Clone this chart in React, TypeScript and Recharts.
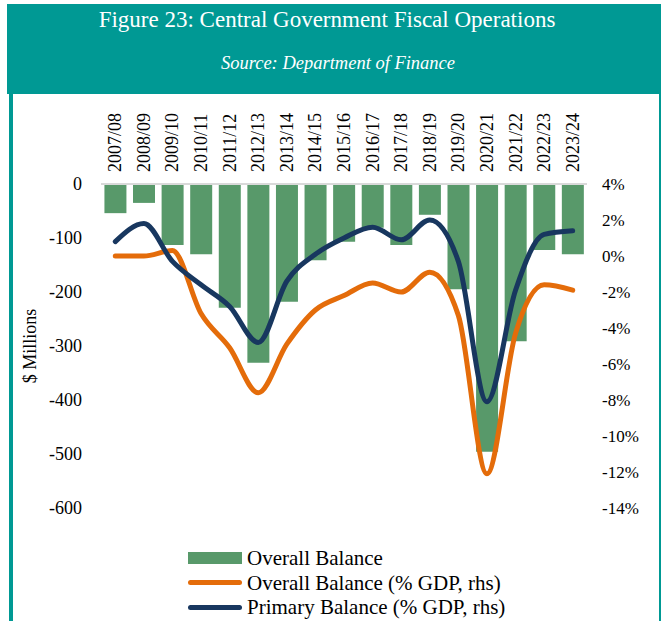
import React from 'react';
import { ComposedChart, Bar, Line, XAxis, YAxis, Legend } from 'recharts';

const YEARS = [
  '2007/08', '2008/09', '2009/10', '2010/11', '2011/12', '2012/13', '2013/14', '2014/15', '2015/16',
  '2016/17', '2017/18', '2018/19', '2019/20', '2020/21', '2021/22', '2022/23', '2023/24',
];
// $ millions
const OVERALL_BALANCE = [-54, -35, -113, -130, -229, -331, -218, -141, -107, -81, -113, -57, -195, -496, -291, -122, -130];
// % of GDP (rhs)
const OVERALL_PCT_GDP = [0.0, 0.0, 0.3, -3.2, -5.1, -7.6, -4.9, -3.0, -2.2, -1.5, -2.0, -0.9, -3.3, -12.1, -4.3, -1.6, -1.9];
const PRIMARY_PCT_GDP = [0.8, 1.8, -0.3, -1.6, -2.8, -4.8, -1.4, 0.1, 1.0, 1.6, 0.9, 2.0, -0.3, -8.1, -1.9, 1.2, 1.4];

const LEFT_TICKS = [0, -100, -200, -300, -400, -500, -600];
const RIGHT_TICKS = [4, 2, 0, -2, -4, -6, -8, -10, -12, -14];

const TEAL = '#009994';
const GREEN = '#58996A';
const ORANGE = '#E46C0A';
const NAVY = '#18375F';
const FONT = '"Liberation Serif", "Times New Roman", serif';

const data = YEARS.map((year, i) => ({
  year,
  overall: OVERALL_BALANCE[i],
  overallPct: OVERALL_PCT_GDP[i],
  primaryPct: PRIMARY_PCT_GDP[i],
}));

const LEGEND_ITEMS = [
  { name: 'Overall Balance', color: GREEN, kind: 'bar' },
  { name: 'Overall Balance (% GDP, rhs)', color: ORANGE, kind: 'line' },
  { name: 'Primary Balance (% GDP, rhs)', color: NAVY, kind: 'line' },
];

const YearTick = (props: any) => {
  const { x, y, payload } = props;
  return (
    <text
      transform={`translate(${x + 6},${y}) rotate(-90)`}
      textAnchor="start"
      fontFamily={FONT}
      fontSize={18}
      fill="#000"
    >
      {payload.value}
    </text>
  );
};

const renderLegend = () => (
  <div style={{ fontFamily: FONT, fontSize: 21, color: '#000', lineHeight: '24.5px' }}>
    {LEGEND_ITEMS.map(item => (
      <div key={item.name} style={{ display: 'flex', alignItems: 'center' }}>
        <span
          style={{
            display: 'inline-block',
            width: 54,
            height: item.kind === 'bar' ? 12 : 5,
            background: item.color,
            borderRadius: item.kind === 'bar' ? 0 : 3,
            marginRight: 5,
          }}
        />
        {item.name}
      </div>
    ))}
  </div>
);

const App: React.FC = () => {
  return (
    <div style={{ position: 'absolute', top: 0, left: 0, width: 661, height: 621, background: '#fff', overflow: 'hidden' }}>
      {/* header band */}
      <div style={{ position: 'absolute', left: 7, top: 4, width: 654, height: 90, background: TEAL }} />
      <div style={{ position: 'absolute', left: 9, top: 94, width: 4, height: 527, background: TEAL }} />
      <div style={{ position: 'absolute', left: 659, top: 94, width: 2, height: 527, background: TEAL }} />
      <div
        style={{
          position: 'absolute', left: 7, top: 5, width: 640, textAlign: 'center',
          fontFamily: FONT, fontSize: 23, lineHeight: '30px', color: '#fff',
        }}
      >
        Figure 23: Central Government Fiscal Operations
      </div>
      <div
        style={{
          position: 'absolute', left: 7, top: 51, width: 662, textAlign: 'center',
          fontFamily: FONT, fontSize: 18.5, fontStyle: 'italic', lineHeight: '24px', color: '#fff',
        }}
      >
        Source: Department of Finance
      </div>

      <div style={{ position: 'absolute', left: 0, top: 90 }}>
        <ComposedChart width={661} height={531} data={data} margin={{ top: 0, right: 0, bottom: 113, left: 0 }} barCategoryGap="12%">
          <XAxis
            dataKey="year"
            orientation="top"
            height={94}
            interval={0}
            tickSize={0}
            tickMargin={12}
            tickLine={false}
            axisLine={{ stroke: '#d9d9d9', strokeWidth: 2 }}
            tick={<YearTick />}
          />
          <YAxis
            yAxisId="left"
            width={101}
            domain={[-600, 0]}
            ticks={LEFT_TICKS}
            interval={0}
            axisLine={false}
            tickLine={false}
            tickSize={0}
            tickMargin={19}
            tick={{ fill: '#000', fontSize: 18, fontFamily: FONT }}
            label={{
              value: '$ Millions',
              angle: -90,
              position: 'insideLeft',
              offset: 30,
              style: { textAnchor: 'middle', fontSize: 18, fontFamily: FONT, fill: '#000' },
            }}
          />
          <YAxis
            yAxisId="right"
            orientation="right"
            width={74}
            domain={[-14, 4]}
            ticks={RIGHT_TICKS}
            interval={0}
            axisLine={false}
            tickLine={false}
            tickSize={0}
            tickMargin={15}
            tickFormatter={(v: number) => `${v}%`}
            tick={{ fill: '#000', fontSize: 17, fontFamily: FONT }}
          />
          <Bar yAxisId="left" dataKey="overall" name="Overall Balance" fill={GREEN} isAnimationActive={false} />
          <Line
            yAxisId="right"
            type="monotone"
            dataKey="overallPct"
            name="Overall Balance (% GDP, rhs)"
            stroke={ORANGE}
            strokeWidth={5}
            strokeLinecap="round"
            dot={false}
            activeDot={false}
            isAnimationActive={false}
          />
          <Line
            yAxisId="right"
            type="monotone"
            dataKey="primaryPct"
            name="Primary Balance (% GDP, rhs)"
            stroke={NAVY}
            strokeWidth={5}
            strokeLinecap="round"
            dot={false}
            activeDot={false}
            isAnimationActive={false}
          />
          <Legend
            layout="horizontal"
            verticalAlign="middle"
            align="center"
            content={renderLegend}
            wrapperStyle={{ top: 456, left: 188, width: 'auto' }}
          />
        </ComposedChart>
      </div>
    </div>
  );
};

export default App;
